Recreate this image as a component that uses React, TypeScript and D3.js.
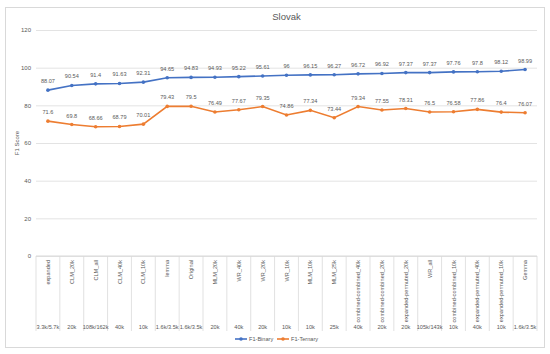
import * as d3 from "d3"
import { useEffect, useRef } from "react"

const categories = ["expanded", "CLM_20k", "CLM_all", "CLM_40k", "CLM_10k", "lemma", "Original", "MLM_20k", "WR_40k", "WR_20k", "WR_10k", "MLM_10k", "MLM_25k", "combined-combined_40k", "combined-combined_20k", "expanded-permuted_20k", "WR_all", "combined-combined_10k", "expanded-permuted_40k", "expanded-permuted_10k", "Gemma"]
const sizes = ["3.3k/5.7k", "20k", "108k/162k", "40k", "10k", "1.6k/3.5k", "1.6k/3.5k", "20k", "40k", "20k", "10k", "10k", "25k", "40k", "20k", "20k", "105k/143k", "10k", "40k", "10k", "1.6k/3.5k"]
const binary = [88.07, 90.54, 91.4, 91.63, 92.31, 94.65, 94.83, 94.93, 95.22, 95.61, 96, 96.15, 96.27, 96.72, 96.92, 97.37, 97.37, 97.76, 97.8, 98.12, 98.99]
const ternary = [71.6, 69.8, 68.66, 68.79, 70.01, 79.43, 79.5, 76.49, 77.67, 79.35, 74.86, 77.34, 73.44, 79.34, 77.55, 78.31, 76.5, 76.58, 77.86, 76.4, 76.07]
const yTicks = [0, 20, 40, 60, 80, 100, 120]

const series = [
	{ name: "F1-Binary", values: binary, color: "#4472C4" },
	{ name: "F1-Ternary", values: ternary, color: "#ED7D31" },
]

export default function App() {

	const svgRef = useRef<SVGSVGElement>(null)

	useEffect(() => {
		const width = 550
		const height = 354
		const margin = { top: 30, left: 36, right: 13, bottom: 98 }
		const font = "'Liberation Sans', Arial, sans-serif"

		const svg = d3.select(svgRef.current)
		svg.selectAll('*').remove()

		svg.append('rect')
			.attr('width', width)
			.attr('height', height)
			.attr('fill', 'white')

		// chart border
		svg.append('rect')
			.attr('x', 5.5)
			.attr('y', 7.5)
			.attr('width', 539)
			.attr('height', 340)
			.attr('fill', 'none')
			.attr('stroke', '#d9d9d9')

		const x = d3.scaleBand()
			.domain(categories)
			.range([margin.left, width - margin.right])

		const y = d3.scaleLinear()
			.domain([0, 120])
			.range([height - margin.bottom, margin.top])

		// title
		svg.append('text')
			.attr('x', (margin.left + width - margin.right) / 2)
			.attr('y', 20)
			.attr('text-anchor', 'middle')
			.attr('font-family', font)
			.attr('font-size', 9.5)
			.attr('fill', '#595959')
			.text('Slovak')

		// grid + y labels
		const yAxis = d3.axisLeft(y)
			.tickValues(yTicks)
			.tickSize(-(width - margin.left - margin.right))
			.tickPadding(5)
		svg.append('g')
			.attr('transform', `translate(${margin.left}, 0)`)
			.call(yAxis)
			.call(g => g.select('.domain').remove())
			.call(g => g.selectAll('line').attr('stroke', '#e3e3e3'))
			.call(g => g.selectAll('text')
				.attr('fill', '#595959')
				.attr('font-family', font)
				.attr('font-size', 6))

		// y axis title
		svg.append('text')
			.attr('transform', `translate(19, ${(y(0) + y(120)) / 2}) rotate(-90)`)
			.attr('text-anchor', 'middle')
			.attr('font-family', font)
			.attr('font-size', 6)
			.attr('fill', '#595959')
			.text('F1 Score')

		// category axis: separators
		const bottomY = y(0)
		const sepY = 331
		const seps = d3.range(categories.length + 1).map(i => margin.left + i * x.step())
		svg.append('g')
			.selectAll('line')
			.data(seps)
			.enter()
			.append('line')
			.attr('x1', d => d)
			.attr('x2', d => d)
			.attr('y1', bottomY)
			.attr('y2', sepY)
			.attr('stroke', '#d9d9d9')
			.attr('stroke-width', 0.8)

		svg.append('line')
			.attr('x1', margin.left)
			.attr('x2', width - margin.right)
			.attr('y1', bottomY)
			.attr('y2', bottomY)
			.attr('stroke', '#d9d9d9')

		// category labels
		svg.append('g')
			.selectAll('text')
			.data(categories)
			.enter()
			.append('text')
			.attr('transform', d => `translate(${x(d)! + x.bandwidth() / 2 + 2}, ${bottomY + 4}) rotate(-90)`)
			.attr('text-anchor', 'end')
			.attr('font-family', font)
			.attr('font-size', 5.6)
			.attr('fill', '#595959')
			.text(d => d)

		// size labels
		svg.append('g')
			.selectAll('text')
			.data(sizes)
			.enter()
			.append('text')
			.attr('x', (d, i) => x(categories[i])! + x.bandwidth() / 2)
			.attr('y', 329)
			.attr('text-anchor', 'middle')
			.attr('font-family', font)
			.attr('font-size', 5.6)
			.attr('fill', '#595959')
			.text(d => d)

		const cx = (i: number) => x(categories[i])! + x.bandwidth() / 2
		const line = d3.line<number>()
			.x((d, i) => cx(i))
			.y(d => y(d))

		series.forEach(s => {
			svg.append('path')
				.datum(s.values)
				.attr('d', line)
				.attr('fill', 'none')
				.attr('stroke', s.color)
				.attr('stroke-width', 1.6)

			svg.append('g')
				.selectAll('circle')
				.data(s.values)
				.enter()
				.append('circle')
				.attr('cx', (d, i) => cx(i))
				.attr('cy', d => y(d))
				.attr('r', 1.8)
				.attr('fill', s.color)

			svg.append('g')
				.selectAll('text')
				.data(s.values)
				.enter()
				.append('text')
				.attr('x', (d, i) => cx(i))
				.attr('y', d => y(d) - 7)
				.attr('text-anchor', 'middle')
				.attr('font-family', font)
				.attr('font-size', 5.6)
				.attr('fill', '#595959')
				.text(d => String(d))
		})

		// legend
		const legend = svg.append('g')
		const legendX = [235, 277]
		series.forEach((s, i) => {
			legend.append('line')
				.attr('x1', legendX[i])
				.attr('x2', legendX[i] + 12)
				.attr('y1', 339)
				.attr('y2', 339)
				.attr('stroke', s.color)
				.attr('stroke-width', 1.6)
			legend.append('circle')
				.attr('cx', legendX[i] + 6)
				.attr('cy', 339)
				.attr('r', 1.8)
				.attr('fill', s.color)
			legend.append('text')
				.attr('x', legendX[i] + 14)
				.attr('y', 341)
				.attr('font-family', font)
				.attr('font-size', 5.6)
				.attr('fill', '#595959')
				.text(s.name)
		})
	}, [])

	return <svg ref={svgRef} width={550} height={354} style={{ position: 'absolute', left: 0, top: 0 }} />
}
